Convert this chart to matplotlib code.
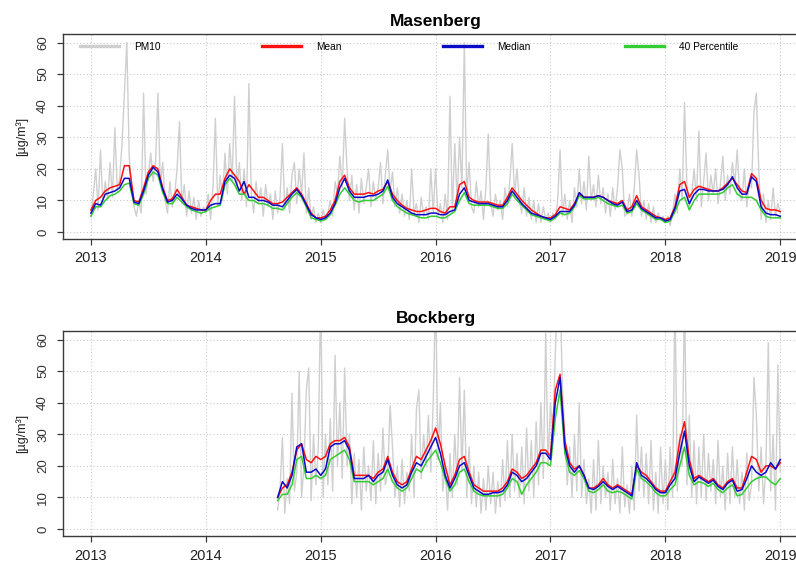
import numpy as np
import matplotlib
matplotlib.use("Agg")
import matplotlib.pyplot as plt
from matplotlib.lines import Line2D
from matplotlib.legend import Legend

plt.rcParams['font.family'] = ['Liberation Sans', 'DejaVu Sans']

# ---------------- data ----------------
years = [2013, 2014, 2015, 2016, 2017, 2018, 2019]
yticks = [0, 10, 20, 30, 40, 50, 60]
titles = ["Masenberg", "Bockberg"]
legend_labels = ["PM10", "Mean", "Median", "40 Percentile"]

# Masenberg: PM10 sampled every 1/48 year from 2013.0
mas_pm10_2013 = [5, 12, 20, 7, 26, 9, 16, 10, 22, 11, 33, 13, 17, 28, 44, 60, 24, 14, 8, 5, 10, 6, 44, 12,
                 18, 25, 16, 22, 44, 15, 22, 10, 6, 16, 8, 12, 20, 35, 9, 15, 5, 13, 6, 11, 4, 10, 5, 8]
mas_pm10_2014 = [6, 12, 4, 14, 36, 8, 18, 10, 25, 12, 28, 16, 43, 14, 22, 10, 20, 8, 47, 12, 6, 16, 9, 14,
                 5, 15, 8, 12, 4, 13, 6, 11, 28, 7, 14, 6, 18, 22, 9, 20, 12, 25, 6, 14, 4, 8, 3, 6]
mas_pm10_2015 = [3, 7, 4, 6, 10, 5, 16, 12, 24, 14, 36, 20, 10, 18, 7, 15, 6, 17, 9, 14, 20, 8, 16, 10,
                 14, 22, 9, 18, 26, 13, 19, 8, 14, 6, 12, 5, 10, 4, 20, 6, 9, 3, 11, 5, 8, 4, 20, 6]
mas_pm10_2016 = [20, 5, 9, 3, 12, 4, 43, 6, 28, 10, 30, 14, 60, 12, 22, 8, 6, 16, 8, 13, 4, 14, 31, 9,
                 5, 12, 7, 10, 4, 14, 8, 16, 28, 12, 20, 10, 6, 14, 5, 11, 4, 10, 3, 9, 3, 8, 4, 6]
mas_pm10_2017 = [3, 6, 4, 10, 26, 5, 12, 4, 10, 3, 14, 8, 20, 9, 16, 7, 24, 10, 15, 8, 18, 9, 14, 6,
                 12, 5, 14, 7, 14, 26, 20, 5, 6, 12, 5, 14, 26, 18, 5, 10, 4, 9, 3, 8, 3, 6, 4, 5]
mas_pm10_2018 = [3, 5, 2, 6, 12, 6, 20, 10, 41, 14, 8, 12, 20, 10, 32, 8, 16, 25, 10, 18, 12, 20, 9, 15,
                 24, 10, 18, 12, 22, 15, 26, 12, 10, 20, 8, 15, 14, 38, 44, 20, 4, 12, 3, 10, 4, 14, 5, 9, 6]

# Masenberg: moving statistics sampled every 1/24 year from 2013.0
mas_mean = [7, 10, 11, 13, 14, 14.5, 15, 21, 21, 10, 9.5, 14, 19, 21, 20, 14, 10, 10.5, 13.5, 11, 8.5, 8, 7.5, 7,
            7, 10, 12, 12, 17, 20, 18, 16, 12, 15, 13, 11, 11, 10, 9, 9, 9.5, 11, 12.5, 14, 12, 9, 6, 4.5,
            4.5, 5, 7, 10, 16, 18, 14, 12, 12, 12, 12.5, 12, 13, 13.5, 16, 12, 10, 8.5, 7.5, 7, 6.5, 6.5, 7, 7.5,
            7.5, 6.5, 6, 8, 8, 15, 16, 11, 10, 9.5, 9.5, 9.5, 9, 8.5, 8.5, 11, 14, 12, 10, 8.5, 7, 6, 5, 4.5,
            4.5, 5.5, 8, 7.5, 7, 9, 12, 11, 11, 11, 11.5, 11, 10, 9.5, 9, 10, 7, 8, 11.5, 8, 7, 6, 5, 4.5,
            4, 4.5, 8, 15, 16, 11, 13.5, 14.5, 14, 13.5, 13, 13, 14, 15.5, 17, 15, 13, 12.5, 18.5, 17, 10, 7.5, 7, 7,
            6.5]
mas_median = [6, 9, 8.5, 12, 12.5, 13, 14, 17, 17, 9.5, 9, 13, 18, 20.5, 19, 13.5, 9.5, 10, 12, 10.5, 8.5, 7.5, 7, 7,
              7, 8.5, 9, 9, 16, 18, 17, 13, 16, 11, 11, 10, 10, 9.5, 8.5, 8.5, 8, 10, 12, 13.5, 11.5, 8.5, 5.5, 4.5,
              4, 4.5, 6, 9, 14, 17, 13, 11, 11, 11, 11.5, 11.5, 12, 13, 16.5, 11, 9, 8, 7, 6, 5.5, 5.5, 5.5, 6,
              6, 5.5, 5.5, 6.5, 7, 12, 14, 10, 9.5, 9, 9, 9, 8.5, 8, 8, 10, 13, 11, 9, 7.5, 6, 5.5, 5, 4.5,
              4, 5, 6.5, 6.5, 6.5, 8.5, 12.5, 11, 11, 11, 11.5, 11, 10, 9, 8.5, 9.5, 6.5, 7, 10, 7.5, 6.5, 5.5, 4.5, 4.5,
              3.5, 4, 7.5, 13, 13.5, 9, 12, 13.5, 13.5, 13, 13, 13, 13.5, 15, 17.5, 14, 12, 12, 17.5, 16, 8, 6, 5.5, 5.5,
              5]
mas_p40 = [5, 8, 8, 10, 11.5, 12, 13, 15, 15.5, 9, 8.5, 12, 17, 19, 18, 12.5, 9, 9, 11, 9.5, 8, 7, 6.5, 6,
           6.5, 7.5, 8, 8.5, 15, 17, 15, 12, 12, 10, 10, 9, 9, 8.5, 7.5, 7.5, 7, 9, 11, 12.5, 11, 8, 4.5, 4,
           3.5, 4, 5.5, 8.5, 12, 14, 12, 10, 9.5, 10, 10, 10, 11, 12, 14.5, 10, 8, 7, 6, 5.5, 5, 4.5, 4.5, 5,
           5, 4.5, 4.5, 5.5, 6.5, 10, 12.5, 9, 8.5, 8.5, 8.5, 8.5, 8, 7.5, 7.5, 9, 12, 10, 8.5, 7, 5.5, 5, 4.5, 4,
           3.5, 4.5, 6, 5.5, 6, 8, 11.5, 10.5, 10.5, 10.5, 11, 10, 9, 8.5, 8, 8.5, 6, 6.5, 9, 7, 6, 5, 4, 4,
           3, 3.5, 6.5, 10, 11, 7, 10, 12, 12, 12, 12, 12, 12.5, 14, 15, 12, 11, 11, 11, 10, 7, 5, 4.5, 4.5,
           4.5]

# Bockberg: PM10 sampled every 1/48 year from 2014.625
bock_pm10_2014 = [6, 12, 29, 5, 16, 8, 43, 12, 18, 50, 10, 20, 44, 51, 9, 30, 14, 26]
bock_pm10_2015 = [75, 10, 30, 14, 35, 12, 55, 20, 40, 16, 51, 20, 30, 8, 24, 10, 22, 6, 26, 12, 20, 9, 28, 8,
                  24, 12, 32, 14, 18, 39, 26, 10, 20, 7, 22, 8, 18, 12, 30, 10, 38, 44, 16, 30, 20, 36, 18, 40]
bock_pm10_2016 = [75, 22, 40, 12, 20, 6, 24, 10, 30, 14, 48, 18, 44, 10, 26, 8, 20, 7, 18, 5, 16, 6, 20, 8,
                  18, 5, 15, 7, 22, 9, 28, 10, 30, 12, 24, 10, 26, 8, 32, 12, 28, 10, 34, 14, 40, 16, 62, 20]
bock_pm10_2017 = [40, 30, 55, 75, 75, 45, 30, 14, 26, 10, 30, 12, 40, 10, 22, 8, 16, 5, 22, 6, 28, 8, 20, 10,
                  18, 6, 22, 8, 16, 5, 26, 7, 14, 5, 20, 6, 36, 12, 26, 10, 24, 8, 28, 6, 18, 5, 26, 8]
bock_pm10_2018 = [22, 6, 26, 10, 75, 12, 30, 20, 75, 14, 36, 10, 28, 8, 26, 10, 30, 9, 24, 12, 22, 8, 28, 10,
                  20, 6, 24, 8, 26, 10, 22, 8, 18, 6, 24, 9, 14, 48, 36, 12, 26, 8, 20, 59, 12, 30, 6, 52, 18]

# Bockberg: moving statistics sampled every 1/24 year from 2014.625
bock_mean = [10, 13, 14, 18, 25, 27, 22, 21, 23,
             22, 23, 27, 28, 28, 29, 26, 17, 17, 17, 17, 16, 18, 19, 23, 18, 15, 14, 15, 19, 23, 22, 25, 28,
             32, 27, 20, 14, 17, 22, 23, 18, 14, 13, 12, 12, 12, 12, 13, 15, 19, 18, 16, 17, 19, 21, 25, 25,
             23, 44, 49, 28, 21, 19, 20, 17, 13, 13, 14, 16, 14, 13, 14, 13, 12, 11, 20, 18, 17, 15, 13, 12,
             12, 15, 18, 28, 34, 22, 16, 17, 16, 15, 16, 14, 13, 15, 16, 13, 13, 18, 23, 22, 18, 20, 20, 19,
             21]
bock_median = [10, 15, 13, 17, 26, 27, 18, 18, 19,
               17, 19, 26, 27, 27, 28, 25, 16, 16, 16, 17, 15, 17, 18, 22, 17, 14, 13, 14, 18, 21, 20, 23, 26,
               29, 24, 17, 13, 16, 20, 21, 17, 13, 12, 11, 11, 11.5, 11.5, 12, 14, 18, 17, 15, 16, 18, 20, 24, 24,
               22, 40, 48, 26, 20, 18, 20, 17, 13, 12.5, 13.5, 15, 13.5, 12.5, 13.5, 12.5, 11.5, 10.5, 21, 17, 16, 14.5, 12.5, 11.5,
               11.5, 14, 16, 24, 31, 20, 15, 16.5, 15.5, 14.5, 15.5, 13.5, 12.5, 14.5, 15.5, 12, 12.5, 16, 20, 18, 17, 18, 21, 19,
               22]
bock_p40 = [9, 11, 11, 14, 22, 23, 16, 16, 17,
            16, 17, 22, 23, 24, 25, 22, 15, 15, 15, 15, 14, 15, 16, 19, 15, 13, 12, 13, 16, 19, 18, 21, 23,
            25, 21, 16, 12, 14, 18, 19, 15, 12, 11, 10.5, 10.5, 10.5, 10.5, 11, 13, 16, 15, 11, 14, 16, 18, 21, 21,
            20, 35, 44, 24, 18, 17, 18.5, 16, 12, 11.5, 12.5, 14, 12, 11.5, 12, 11.5, 10.5, 9.5, 19, 16, 15, 13.5, 11.5, 10.5,
            10.5, 12.5, 14, 20, 26, 17, 14, 15, 14.5, 13.5, 14.5, 12.5, 11.5, 13, 14, 10.5, 11, 13, 15, 16, 16.5, 16.5, 15, 14,
            16]

mas_pm10 = mas_pm10_2013 + mas_pm10_2014 + mas_pm10_2015 + mas_pm10_2016 + mas_pm10_2017 + mas_pm10_2018
bock_pm10 = bock_pm10_2014 + bock_pm10_2015 + bock_pm10_2016 + bock_pm10_2017 + bock_pm10_2018

stations = [
    dict(start=2013.0, pm10=mas_pm10, mean=mas_mean, median=mas_median, p40=mas_p40),
    dict(start=2014.625, pm10=bock_pm10, mean=bock_mean, median=bock_median, p40=bock_p40),
]

# ---------------- style ----------------
C_GRAY = "#cfcfcf"
C_RED = "#ff1010"
C_BLUE = "#0a0ac8"
C_GREEN = "#33cc33"
C_AX = "#3a3a3a"

W, H = 796, 561
fig = plt.figure(figsize=(W / 100, H / 100), dpi=100)

ax_left, ax_right = 63, 809
panels_px = [(34, 239), (331, 536)]

for k, (top, bot) in enumerate(panels_px):
    ax = fig.add_axes([ax_left / W, (H - bot) / H, (ax_right - ax_left) / W, (bot - top) / H])
    st = stations[k]
    pm = np.asarray(st["pm10"], dtype=float)
    t_pm = st["start"] + np.arange(len(pm)) / 48.0
    t_ln = st["start"] + np.arange(len(st["mean"])) / 24.0

    ax.plot(t_pm, pm, color=C_GRAY, lw=1.0, zorder=2)
    ax.plot(t_ln, st["mean"], color=C_RED, lw=1.1, zorder=3)
    ax.plot(t_ln, st["p40"], color=C_GREEN, lw=1.1, zorder=3)
    ax.plot(t_ln, st["median"], color=C_BLUE, lw=1.1, zorder=4)

    ax.set_xlim(2012.757, 2019.25)
    ax.set_ylim(-2.2, 62.7)
    ax.set_xticks(years)
    ax.set_xticklabels([str(y) for y in years])
    ax.set_yticks(yticks)
    ax.set_yticklabels([str(v) for v in yticks], rotation=90, va='center')
    ax.grid(True, color="#c8c8c8", linestyle=(0, (1, 2)), linewidth=0.8, zorder=0)
    ax.set_axisbelow(True)

    for s in ["left", "top", "bottom"]:
        ax.spines[s].set_color(C_AX)
        ax.spines[s].set_linewidth(1.0)
    ax.spines["right"].set_visible(False)
    ax.tick_params(axis='both', colors=C_AX, length=4.5, width=0.9)
    ax.tick_params(axis='x', labelsize=10.5, pad=4.5, labelcolor="#222222")
    ax.tick_params(axis='y', labelsize=9.5, pad=5.5, labelcolor="#333333")

    ax.set_ylabel("[µg/m³]", fontsize=9, color="#222222")
    ax.yaxis.set_label_coords(-(ax_left - 22) / (ax_right - ax_left), 0.5)
    ax.yaxis.label.set_verticalalignment('center')

    ax.set_title(titles[k], fontsize=12.5, fontweight='bold', pad=5.8)

    if k == 0:
        handles = [Line2D([], [], color=C_GRAY, lw=2.4),
                   Line2D([], [], color=C_RED, lw=2.4),
                   Line2D([], [], color=C_BLUE, lw=2.4),
                   Line2D([], [], color=C_GREEN, lw=2.4)]
        xs = [80, 262, 443, 625]
        for h, lab, xp in zip(handles, legend_labels, xs):
            lg = Legend(ax, [h], [lab], loc='center left',
                        bbox_to_anchor=((xp - ax_left) / (ax_right - ax_left), (bot - 47) / (bot - top)),
                        frameon=False, fontsize=7.3, handlelength=3.8, handletextpad=1.5,
                        borderpad=0, borderaxespad=0)
            ax.add_artist(lg)

fig.savefig("out.png", dpi=100)
